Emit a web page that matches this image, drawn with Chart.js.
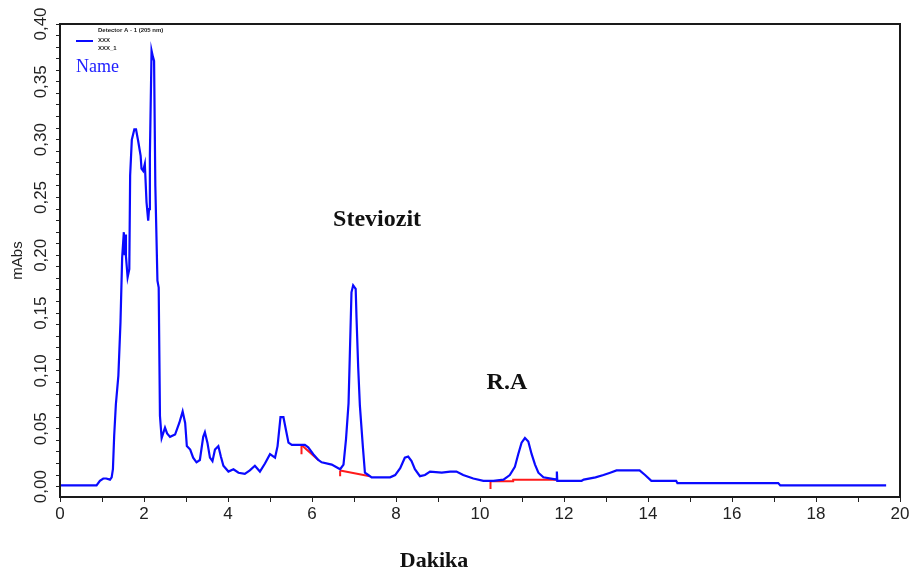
<!DOCTYPE html>
<html>
<head>
<meta charset="utf-8">
<script src="https://cdn.jsdelivr.net/npm/chart.js@4.4.1/dist/chart.umd.min.js"></script>
<style>
  html, body { margin: 0; padding: 0; background: #fff; }
  #chart { display: block; }
</style>
</head>
<body>
<canvas id="chart" width="920" height="578"></canvas>
<script>
// chromatogram trace (minutes / mAbs)
const retentionTime = [
  0, 0.87, 0.95, 1.03, 1.10, 1.19, 1.23, 1.26, 1.29, 1.33, 1.39, 1.44, 1.48, 1.52, 1.54, 1.55,
  1.57, 1.61, 1.65, 1.67, 1.71, 1.77, 1.81, 1.86, 1.92, 1.94, 1.98, 2.02, 2.06, 2.10, 2.12, 2.14,
  2.18, 2.21, 2.24, 2.27, 2.32, 2.35, 2.38, 2.42, 2.50, 2.55, 2.62, 2.74, 2.84, 2.92, 2.98, 3.02,
  3.10, 3.17, 3.25, 3.33, 3.41, 3.45, 3.51, 3.57, 3.63, 3.69, 3.77, 3.83, 3.89, 4.01, 4.13, 4.25,
  4.40, 4.52, 4.64, 4.76, 4.88, 5.00, 5.12, 5.18, 5.25, 5.32, 5.38, 5.44, 5.52, 5.83, 5.91, 6.03,
  6.15, 6.23, 6.47, 6.67, 6.75, 6.81, 6.87, 6.90, 6.94, 6.98, 7.04, 7.06, 7.10, 7.14, 7.21, 7.26,
  7.34, 7.42, 7.86, 7.98, 8.10, 8.21, 8.29, 8.37, 8.45, 8.57, 8.69, 8.81, 9.09, 9.29, 9.44, 9.60,
  9.84, 10.08, 10.32, 10.56, 10.71, 10.83, 10.91, 10.99, 11.07, 11.15, 11.23, 11.31, 11.39, 11.51,
  11.83, 11.83, 11.84, 12.42, 12.47, 12.75, 12.94, 13.10, 13.25, 13.80, 13.93, 14.08, 14.67, 14.70,
  17.10, 17.15, 19.67
];
const absorbance = [
  0.001, 0.001, 0.005, 0.007, 0.007, 0.006, 0.008, 0.015, 0.044, 0.071, 0.096, 0.142, 0.198, 0.220, 0.200, 0.218,
  0.199, 0.181, 0.188, 0.269, 0.300, 0.309, 0.309, 0.299, 0.286, 0.275, 0.273, 0.279, 0.246, 0.230, 0.240, 0.286,
  0.377, 0.372, 0.368, 0.260, 0.178, 0.172, 0.061, 0.042, 0.051, 0.046, 0.043, 0.045, 0.055, 0.065, 0.055, 0.035,
  0.032, 0.025, 0.021, 0.023, 0.043, 0.047, 0.038, 0.025, 0.022, 0.032, 0.035, 0.026, 0.018, 0.013, 0.015, 0.012,
  0.011, 0.014, 0.018, 0.013, 0.020, 0.028, 0.025, 0.035, 0.060, 0.060, 0.049, 0.038, 0.036, 0.036, 0.034, 0.028,
  0.023, 0.021, 0.019, 0.015, 0.019, 0.041, 0.072, 0.113, 0.168, 0.174, 0.171, 0.146, 0.103, 0.070, 0.035, 0.012,
  0.010, 0.008, 0.008, 0.010, 0.016, 0.025, 0.026, 0.022, 0.015, 0.009, 0.010, 0.013, 0.012, 0.013, 0.013, 0.010,
  0.007, 0.005, 0.005, 0.006, 0.010, 0.017, 0.028, 0.038, 0.042, 0.039, 0.028, 0.019, 0.012, 0.008,
  0.006, 0.013, 0.005, 0.005, 0.006, 0.008, 0.010, 0.012, 0.014, 0.014, 0.010, 0.005, 0.005, 0.003,
  0.003, 0.001, 0.001
];

// integration baselines (red), each with its start marker
const baseline1Time = [5.75, 6.15];
const baseline1Value = [0.036, 0.023];
const baseline2Time = [6.67, 7.38];
const baseline2Value = [0.014, 0.009];
const baseline3Time = [10.25, 10.79, 10.79, 11.83];
const baseline3Value = [0.0046, 0.0046, 0.006, 0.006];
const markerTime = [5.75, 6.67, 10.25];
const markerTop = [0.036, 0.014, 0.0046];
const markerBottom = [0.028, 0.009, -0.002];

// axes
const xTickValues = [0, 1, 2, 3, 4, 5, 6, 7, 8, 9, 10, 11, 12, 13, 14, 15, 16, 17, 18, 19, 20];
const xTickLabels = ['0', '', '2', '', '4', '', '6', '', '8', '', '10', '', '12', '', '14', '', '16', '', '18', '', '20'];
const yMajorTicks = [0, 0.05, 0.10, 0.15, 0.20, 0.25, 0.30, 0.35, 0.40];
const yTickLabels = ['0,00', '0,05', '0,10', '0,15', '0,20', '0,25', '0,30', '0,35', '0,40'];

// peak names
const peakNames = ['Steviozit', 'R.A'];
const peakNameTime = [7.55, 10.64];
const peakNameValue = [0.231, 0.090];

function toPoints(xs, ys) {
  return xs.map((x, i) => ({ x: x, y: ys[i] }));
}

const yTickValues = [];
for (let i = 0; i <= 40; i++) yTickValues.push(Math.round(i) / 100);

const redLine = (data) => ({
  data: data,
  showLine: true,
  borderColor: '#ff1a1a',
  borderWidth: 2,
  pointRadius: 0,
  tension: 0
});

const datasets = [
  {
    label: 'XXX',
    data: toPoints(retentionTime, absorbance),
    showLine: true,
    borderColor: '#0a0aff',
    borderWidth: 2.2,
    pointRadius: 0,
    tension: 0
  },
  redLine(toPoints(baseline1Time, baseline1Value)),
  redLine(toPoints(baseline2Time, baseline2Value)),
  redLine(toPoints(baseline3Time, baseline3Value))
];
markerTime.forEach((t, i) => {
  datasets.push(redLine([{ x: t, y: markerTop[i] }, { x: t, y: markerBottom[i] }]));
});

// frame, legend block, peak names and x title
const overlay = {
  id: 'overlay',
  afterDraw(chart) {
    const { ctx, chartArea: a, scales: { x, y } } = chart;
    ctx.save();
    ctx.strokeStyle = '#1a1a1a';
    ctx.lineWidth = 2;
    ctx.strokeRect(a.left, a.top, a.right - a.left, a.bottom - a.top);

    // legend
    ctx.strokeStyle = '#0a0aff';
    ctx.lineWidth = 2;
    ctx.beginPath();
    ctx.moveTo(a.left + 16, a.top + 17);
    ctx.lineTo(a.left + 33, a.top + 17);
    ctx.stroke();
    ctx.fillStyle = '#222';
    ctx.textAlign = 'left';
    ctx.textBaseline = 'middle';
    ctx.font = 'bold 6px "Liberation Sans"';
    ctx.fillText('Detector A - 1 (205 nm)', a.left + 38, a.top + 6);
    ctx.fillText('XXX', a.left + 38, a.top + 16);
    ctx.fillText('XXX_1', a.left + 38, a.top + 24);
    ctx.fillStyle = '#2020ff';
    ctx.font = '18px "Liberation Serif"';
    ctx.fillText('Name', a.left + 16, a.top + 43);

    // peak names
    ctx.fillStyle = '#111';
    ctx.textAlign = 'center';
    ctx.font = 'bold 24px "Liberation Serif"';
    peakNames.forEach((name, i) => {
      ctx.fillText(name, x.getPixelForValue(peakNameTime[i]), y.getPixelForValue(peakNameValue[i]));
    });

    // x axis title, sits left of centre in the original
    ctx.font = 'bold 22px "Liberation Serif"';
    ctx.fillText('Dakika', a.left + 374, 561);
    ctx.restore();
  }
};

new Chart(document.getElementById('chart').getContext('2d'), {
  type: 'scatter',
  data: { datasets: datasets },
  options: {
    responsive: false,
    animation: false,
    layout: { padding: { top: 24, right: 20, left: 0, bottom: 0 } },
    plugins: {
      legend: { display: false },
      tooltip: { enabled: false }
    },
    scales: {
      x: {
        type: 'linear',
        min: 0,
        max: 20,
        afterBuildTicks: (axis) => { axis.ticks = xTickValues.map(v => ({ value: v })); },
        afterFit: (axis) => { axis.height = 81; },
        ticks: {
          autoSkip: false,
          maxRotation: 0,
          padding: 2,
          color: '#222',
          font: { family: 'Liberation Sans', size: 17 },
          callback: (v) => xTickLabels[xTickValues.indexOf(v)] || ''
        },
        grid: { drawOnChartArea: false, drawTicks: true, tickLength: 5, color: '#222' },
        border: { display: true, color: '#1a1a1a', width: 2 }
      },
      y: {
        type: 'linear',
        min: -0.009,
        max: 0.40,
        afterBuildTicks: (axis) => { axis.ticks = yTickValues.map(v => ({ value: v })); },
        afterFit: (axis) => { axis.width = 60; },
        ticks: {
          autoSkip: false,
          minRotation: 90,
          maxRotation: 90,
          crossAlign: 'center',
          padding: -2,
          color: '#222',
          font: { family: 'Liberation Sans', size: 17 },
          callback: (v) => {
            const k = yMajorTicks.findIndex(m => Math.abs(m - v) < 1e-6);
            return k >= 0 ? yTickLabels[k] : '';
          }
        },
        title: {
          display: true,
          text: 'mAbs',
          color: '#222',
          font: { family: 'Liberation Sans', size: 15 },
          padding: { top: 9, bottom: 0 }
        },
        grid: { drawOnChartArea: false, drawTicks: true, tickLength: 4, color: '#222' },
        border: { display: true, color: '#1a1a1a', width: 2 }
      }
    }
  },
  plugins: [overlay]
});
</script>
</body>
</html>
